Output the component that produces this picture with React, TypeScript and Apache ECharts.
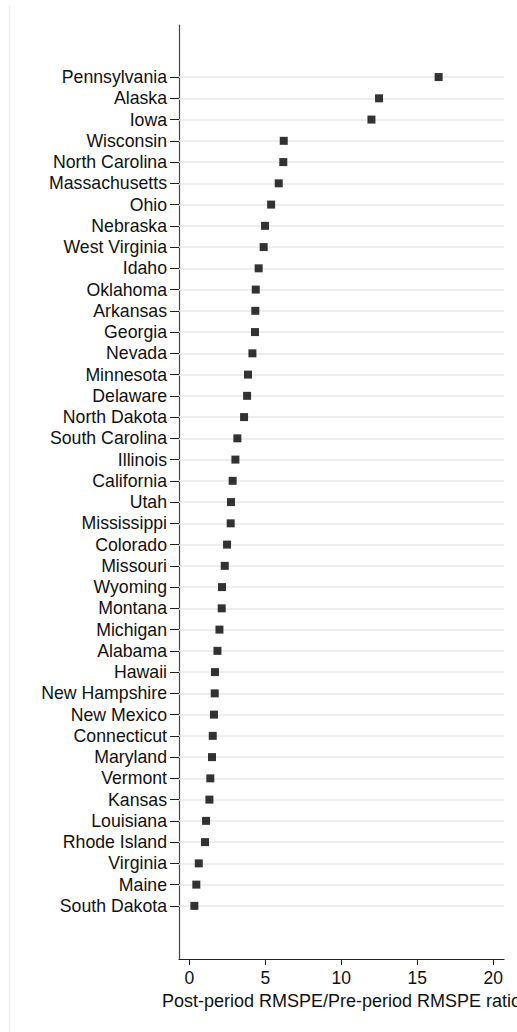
import React, { useEffect, useRef } from "react";
import * as echarts from "echarts";

// States ordered top to bottom by their RMSPE ratio
const states = [
  "Pennsylvania", "Alaska", "Iowa", "Wisconsin", "North Carolina", "Massachusetts",
  "Ohio", "Nebraska", "West Virginia", "Idaho", "Oklahoma", "Arkansas", "Georgia",
  "Nevada", "Minnesota", "Delaware", "North Dakota", "South Carolina", "Illinois",
  "California", "Utah", "Mississippi", "Colorado", "Missouri", "Wyoming", "Montana",
  "Michigan", "Alabama", "Hawaii", "New Hampshire", "New Mexico", "Connecticut",
  "Maryland", "Vermont", "Kansas", "Louisiana", "Rhode Island", "Virginia", "Maine",
  "South Dakota",
];

const ratios = [
  16.4, 12.48, 11.98, 6.21, 6.18, 5.88,
  5.38, 4.98, 4.89, 4.56, 4.37, 4.34, 4.32,
  4.15, 3.86, 3.8, 3.6, 3.16, 3.03,
  2.85, 2.74, 2.72, 2.48, 2.33, 2.15, 2.13,
  1.98, 1.85, 1.69, 1.67, 1.62, 1.54,
  1.49, 1.38, 1.32, 1.1, 1.03, 0.62, 0.46,
  0.33,
];

const xTicks = [0, 5, 10, 15, 20];
const xTitle = "Post-period RMSPE/Pre-period RMSPE ratio";

const FONT = "'Liberation Sans', Arial, Helvetica, sans-serif";

export default function App() {
  const ref = useRef<HTMLDivElement>(null);

  useEffect(() => {
    if (!ref.current) return;
    const chart = echarts.init(ref.current, null, { renderer: "svg" });
    const rows = states.map((_, i) => i);

    chart.setOption({
      animation: false,
      backgroundColor: "#ffffff",
      graphic: [
        {
          type: "line",
          shape: { x1: 9.5, y1: 5, x2: 9.5, y2: 1032 },
          style: { stroke: "#efefef", lineWidth: 1.5 },
          silent: true,
        },
      ],
      grid: {
        left: 179,
        top: 25,
        right: 13,
        bottom: 73,
        containLabel: false,
        outerBoundsMode: "none",
      },
      xAxis: {
        type: "value",
        min: -0.68,
        max: 20.7,
        axisLine: { show: true, onZero: false, lineStyle: { color: "#222", width: 1.2 } },
        axisTick: {
          show: true,
          customValues: xTicks,
          length: 6,
          lineStyle: { color: "#222", width: 1 },
        },
        axisLabel: {
          customValues: xTicks,
          fontSize: 17.5,
          color: "#111",
          fontFamily: FONT,
          margin: 10,
        },
        splitLine: { show: false },
        name: xTitle,
        nameLocation: "middle",
        nameGap: 29,
        nameTextStyle: { fontSize: 18, color: "#111", fontFamily: FONT },
      },
      yAxis: {
        type: "value",
        inverse: true,
        min: -2.45,
        max: 41.5,
        axisLine: { show: true, onZero: false, lineStyle: { color: "#444", width: 1.2 } },
        axisTick: {
          show: true,
          customValues: rows,
          length: 9,
          lineStyle: { color: "#222", width: 1 },
        },
        axisLabel: {
          customValues: rows,
          formatter: (v: number) => states[Math.round(v)] ?? "",
          fontSize: 17.7,
          color: "#111",
          fontFamily: FONT,
          margin: 12,
        },
        splitLine: { show: false },
      },
      series: [
        {
          // horizontal guide line at each state row
          type: "line",
          data: [],
          silent: true,
          z: 1,
          markLine: {
            z: 1,
            silent: true,
            symbol: ["none", "none"],
            label: { show: false },
            lineStyle: { color: "#e9e9e9", type: "solid", width: 1.5 },
            emphasis: { disabled: true },
            data: rows.map((i) => ({ yAxis: i })),
          },
        },
        {
          type: "scatter",
          z: 6,
          symbol: "rect",
          symbolSize: 8,
          itemStyle: { color: "#000" },
          data: states.map((_, i) => [ratios[i], i]),
        },
      ],
    });

    return () => chart.dispose();
  }, []);

  return (
    <div
      ref={ref}
      style={{ position: "fixed", left: 0, top: 0, width: 517, height: 1032 }}
    />
  );
}
